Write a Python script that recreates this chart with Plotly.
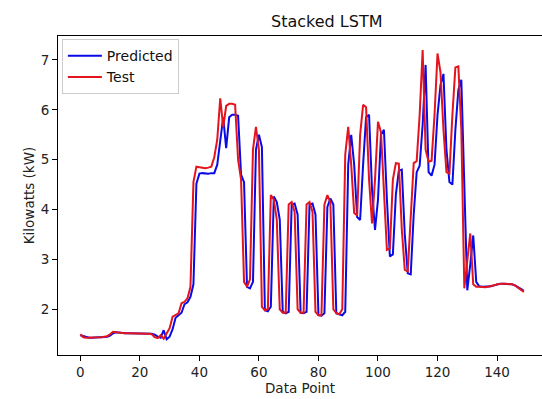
import plotly.graph_objects as go

# Observed test load and the stacked-LSTM prediction, one value per data point
test_kw = [
    1.50, 1.44, 1.43, 1.43, 1.44, 1.44, 1.44, 1.44, 1.45, 1.46,
    1.50, 1.55, 1.54, 1.53, 1.53, 1.52, 1.52, 1.52, 1.52, 1.51,
    1.51, 1.51, 1.51, 1.51, 1.50, 1.44, 1.42, 1.48, 1.41, 1.52,
    1.62, 1.85, 1.88, 1.92, 2.12, 2.15, 2.22, 2.45, 4.55, 4.86,
    4.85, 4.84, 4.83, 4.84, 4.86, 5.05, 5.40, 6.23, 5.65, 6.08,
    6.12, 6.12, 6.10, 5.00, 4.60, 2.55, 2.45, 2.60, 5.20, 5.66,
    5.20, 2.05, 1.98, 2.00, 4.29, 4.20, 3.80, 2.00, 1.93, 1.93,
    4.10, 4.15, 3.95, 2.00, 1.93, 1.93, 4.10, 4.15, 3.95, 1.95,
    1.88, 1.88, 4.10, 4.29, 4.15, 2.00, 1.92, 1.90, 2.00, 5.10,
    5.66, 4.90, 3.93, 3.88, 5.50, 6.10, 6.05, 4.60, 3.72, 4.60,
    5.76, 5.55, 4.20, 3.19, 3.22, 4.60, 4.93, 4.92, 3.60, 2.79,
    2.76, 4.00, 4.93, 4.97, 5.90, 7.20, 5.20, 4.96, 4.98, 5.90,
    7.13, 6.75, 5.60, 4.75, 4.72, 5.90, 6.85, 6.87, 5.60, 2.42,
    3.00, 3.52, 2.50, 2.45, 2.45, 2.44, 2.44, 2.45, 2.46, 2.48,
    2.50, 2.51, 2.51, 2.51, 2.51, 2.50, 2.48, 2.44, 2.40, 2.35,
]

predicted_kw = [
    1.48, 1.46, 1.44, 1.43, 1.43, 1.44, 1.44, 1.44, 1.44, 1.45,
    1.47, 1.52, 1.54, 1.53, 1.53, 1.52, 1.52, 1.52, 1.52, 1.52,
    1.51, 1.51, 1.51, 1.51, 1.51, 1.49, 1.45, 1.43, 1.58, 1.40,
    1.45, 1.60, 1.83, 1.88, 1.93, 2.10, 2.14, 2.25, 2.50, 4.52,
    4.72, 4.73, 4.72, 4.72, 4.73, 4.73, 4.90, 5.40, 5.85, 5.23,
    5.85, 5.90, 5.90, 5.88, 4.70, 4.55, 2.45, 2.42, 2.55, 5.20,
    5.50, 5.25, 1.98, 1.96, 2.05, 4.26, 4.15, 3.80, 1.95, 1.92,
    1.95, 4.10, 4.12, 3.90, 1.93, 1.92, 1.95, 4.10, 4.12, 3.90,
    1.88, 1.87, 1.92, 4.05, 4.22, 4.10, 1.92, 1.90, 1.88, 1.95,
    4.90, 5.50, 4.90, 3.85, 3.79, 4.90, 5.85, 5.90, 4.40, 3.59,
    4.20, 5.50, 5.60, 4.20, 3.06, 3.10, 4.30, 4.78, 4.80, 3.50,
    2.72, 2.70, 3.90, 4.75, 4.88, 5.70, 6.90, 4.75, 4.68, 4.90,
    5.90, 6.50, 6.72, 5.20, 4.55, 4.50, 5.60, 6.40, 6.60, 4.50,
    2.38, 2.90, 3.48, 2.55, 2.46, 2.45, 2.45, 2.45, 2.46, 2.48,
    2.50, 2.51, 2.51, 2.51, 2.51, 2.50, 2.48, 2.45, 2.41, 2.37,
]

data_points = list(range(len(test_kw)))

x_ticks = [0, 20, 40, 60, 80, 100, 120, 140]
y_ticks = [2, 3, 4, 5, 6, 7]

font_family = "DejaVu Sans, Arial, sans-serif"

fig = go.Figure()
fig.add_trace(go.Scatter(
    x=data_points, y=predicted_kw, mode="lines", name="Predicted",
    line=dict(color="#0a0ae6", width=2),
))
fig.add_trace(go.Scatter(
    x=data_points, y=test_kw, mode="lines", name="Test",
    line=dict(color="#e3141e", width=2),
))

fig.update_layout(
    width=542, height=399,
    margin=dict(l=58, r=0, t=36, b=44),
    paper_bgcolor="white", plot_bgcolor="white",
    font=dict(family=font_family, size=13.5, color="#222"),
    title=dict(
        text="Stacked LSTM", x=301 / 542, xref="paper", xanchor="center",
        y=1 - 21 / 399, yref="container", yanchor="middle",
        font=dict(size=16, color="#111"),
    ),
    showlegend=True,
    legend=dict(
        x=0.008, y=0.99, xanchor="left", yanchor="top",
        bgcolor="rgba(255,255,255,0.9)", bordercolor="#cccccc", borderwidth=1,
        font=dict(size=14, color="#111"),
        itemwidth=34, tracegroupgap=2,
    ),
    xaxis=dict(
        range=[-7.5, 155.1], tickvals=x_ticks, ticktext=[str(v) for v in x_ticks],
        showgrid=False, zeroline=False,
        showline=True, linecolor="black", linewidth=1, mirror=True,
        ticks="outside", ticklen=5, tickcolor="black", tickwidth=1,
        title=dict(text="Data Point", standoff=3, font=dict(size=13.5)),
    ),
    yaxis=dict(
        range=[1.083, 7.48], tickvals=y_ticks, ticktext=[str(v) for v in y_ticks],
        showgrid=False, zeroline=False,
        showline=True, linecolor="black", linewidth=1, mirror=False,
        ticks="outside", ticklen=5, tickcolor="black", tickwidth=1,
        title=dict(text="Kilowatts (kW)", standoff=2, font=dict(size=13.5)),
    ),
)

fig.write_html("out.html")
